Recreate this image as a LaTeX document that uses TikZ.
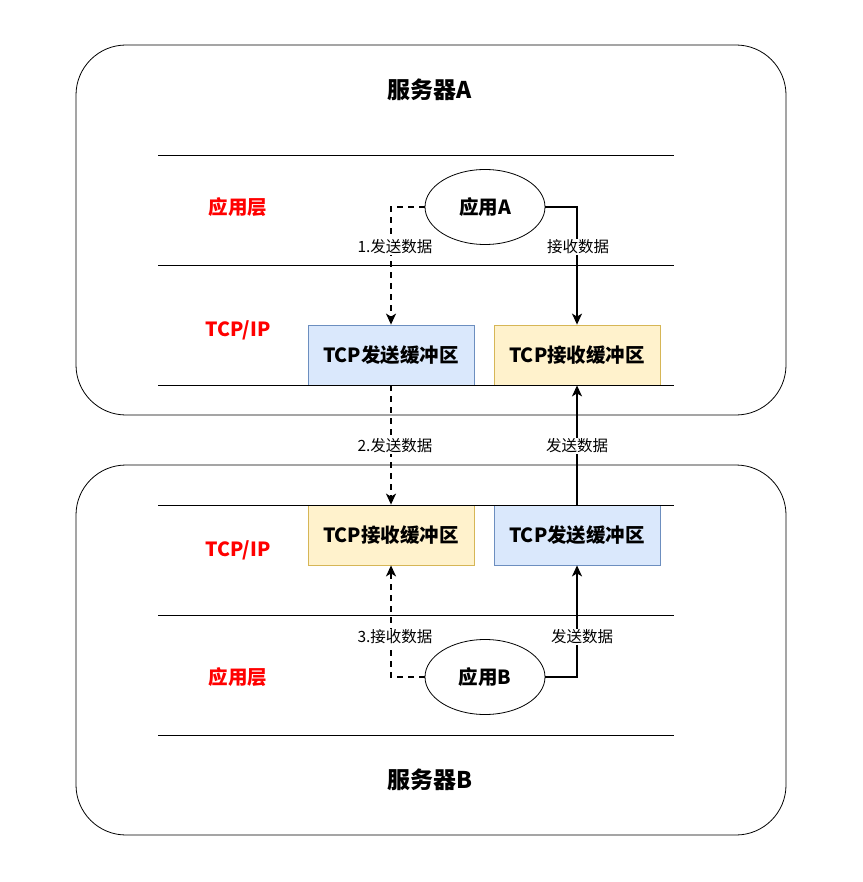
\documentclass[tikz,border=0pt]{standalone}
\usepackage{fontspec}
\setmainfont{Noto Sans CJK SC}
\usetikzlibrary{arrows.meta,shapes.geometric}

\definecolor{sendfill}{HTML}{DAE8FC}
\definecolor{senddraw}{HTML}{6C8EBF}
\definecolor{recvfill}{HTML}{FFF2CC}
\definecolor{recvdraw}{HTML}{D6B656}

\tikzset{
  server/.style={draw, line width=0.8pt, rounded corners=50pt, minimum width=710pt, minimum height=370pt, inner sep=0pt},
  title/.style={font=\fontsize{23}{23}\selectfont\bfseries},
  layer/.style={text=red, font=\fontsize{19.5}{19.5}\selectfont\bfseries},
  bufbox/.style={draw, line width=0.8pt, minimum width=166pt, minimum height=60pt, inner sep=0pt, font=\fontsize{19.5}{19.5}\selectfont\bfseries},
  sendbuf/.style={bufbox, fill=sendfill, draw=senddraw},
  recvbuf/.style={bufbox, fill=recvfill, draw=recvdraw},
  app/.style={draw, ellipse, line width=0.8pt, minimum width=120pt, minimum height=75pt, inner sep=0pt, fill=white, font=\fontsize{19.5}{19.5}\selectfont\bfseries},
  flow/.style={line width=1.5pt, -{Stealth[length=11pt,width=10pt,inset=3pt]}},
  dflow/.style={flow, dash pattern=on 6pt off 5pt},
  lbl/.style={fill=white, inner sep=1pt, font=\fontsize{15.5}{15.5}\selectfont}
}

\begin{document}
\begin{tikzpicture}[x=1pt, y=-1pt]
    \useasboundingbox (0, 0) rectangle (862, 882);
    \node[server] (srvA) at (431, 230) {};
    \node[server] (srvB) at (431, 650) {};
    \node[title] (titleA) at (430, 90) {服务器A};
    \node[title] (titleB) at (430, 780) {服务器B};

    \node[layer] (appLayerA) at (238, 207) {应用层};
    \node[layer] (tcpLayerA) at (238, 330) {TCP/IP};
    \node[layer] (tcpLayerB) at (238, 550) {TCP/IP};
    \node[layer] (appLayerB) at (238, 677) {应用层};

    \node[sendbuf] (sendA) at (391, 355) {TCP发送缓冲区};
    \node[recvbuf] (recvA) at (577, 355) {TCP接收缓冲区};
    \node[recvbuf] (recvB) at (391, 535) {TCP接收缓冲区};
    \node[sendbuf] (sendB) at (577, 535) {TCP发送缓冲区};

    \foreach \y in {155, 265, 385, 505, 615, 735}
      \draw[line width=0.8pt] (158, \y) -- (674, \y);

    \node[app] (appA) at (485, 207) {应用A};
    \node[app] (appB) at (485, 677) {应用B};

    \draw[dflow] (appA.west) -| (sendA.north);
    \draw[flow] (appA.east) -| (recvA.north);
    \draw[dflow] (sendA.south) -- (recvB.north);
    \draw[flow] (sendB.north) -- (recvA.south);
    \draw[dflow] (appB.west) -| (recvB.south);
    \draw[flow] (appB.east) -| (sendB.south);

    \node[lbl] (l1) at (395, 247) {1.发送数据};
    \node[lbl] (l2) at (578, 247) {接收数据};
    \node[lbl] (l3) at (395, 446) {2.发送数据};
    \node[lbl] (l4) at (577, 446) {发送数据};
    \node[lbl] (l5) at (395, 637) {3.接收数据};
    \node[lbl] (l6) at (582, 637) {发送数据};
  \end{tikzpicture}
\end{document}
